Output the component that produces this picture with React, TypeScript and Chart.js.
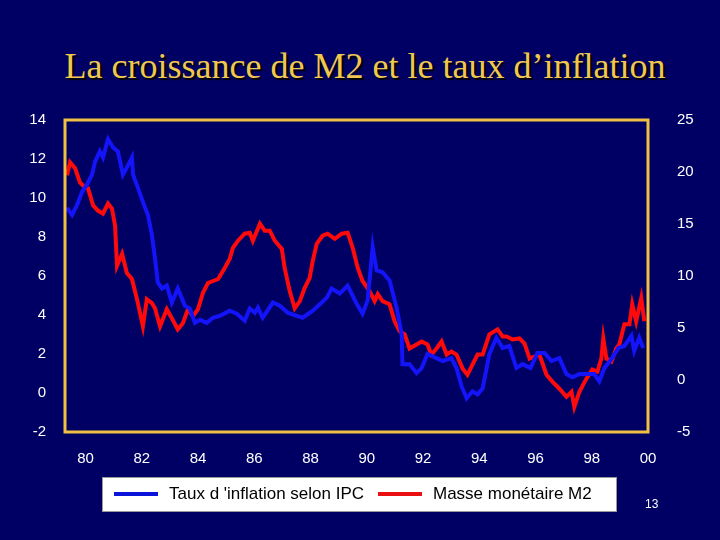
import React, { useEffect, useRef } from "react";
import { Chart, registerables } from "chart.js";

Chart.register(...registerables);

const TITLE = "La croissance de M2 et le taux d’inflation";
const LEGEND_CPI = "Taux d 'inflation selon IPC";
const LEGEND_M2 = "Masse monétaire M2";
const PAGE_NO = "13";

const YEAR_TICKS = [1980, 1982, 1984, 1986, 1988, 1990, 1992, 1994, 1996, 1998, 2000];

// Inflation (CPI), left axis, %
const CPI_YEARS = [
  1979.34, 1979.52, 1979.7, 1979.88, 1980.05, 1980.23, 1980.34, 1980.51, 1980.62, 1980.8,
  1980.98, 1981.15, 1981.33, 1981.47, 1981.65, 1981.69, 1981.86, 1982.04, 1982.22, 1982.36,
  1982.47, 1982.57, 1982.72, 1982.89, 1983.07, 1983.28, 1983.43, 1983.53, 1983.71, 1983.89,
  1984.07, 1984.31, 1984.53, 1984.78, 1985.13, 1985.38, 1985.66, 1985.84, 1986.02, 1986.13,
  1986.3, 1986.66, 1986.91, 1987.19, 1987.51, 1987.72, 1988.08, 1988.4, 1988.58, 1988.75,
  1989.04, 1989.32, 1989.64, 1989.85, 1990.03, 1990.21, 1990.35, 1990.56, 1990.81, 1991.06,
  1991.24, 1991.27, 1991.52, 1991.77, 1991.95, 1992.16, 1992.48, 1992.7, 1993.01, 1993.19,
  1993.37, 1993.55, 1993.76, 1993.94, 1994.12, 1994.36, 1994.61, 1994.83, 1995.07, 1995.32,
  1995.54, 1995.82, 1996.07, 1996.32, 1996.57, 1996.85, 1997.1, 1997.31, 1997.56, 1997.81,
  1998.09, 1998.27, 1998.45, 1998.7, 1998.95, 1999.16, 1999.41, 1999.51, 1999.69, 1999.83,
];
const CPI_VALUES = [
  9.49, 9.13, 9.65, 10.32, 10.68, 11.2, 11.87, 12.39, 12.08, 13.01,
  12.59, 12.39, 11.2, 11.56, 12.08, 11.2, 10.53, 9.8, 9.13, 8.1,
  6.91, 5.67, 5.36, 5.51, 4.64, 5.36, 4.84, 4.48, 4.33, 3.6,
  3.76, 3.6, 3.86, 3.96, 4.22, 4.07, 3.71, 4.33, 4.12, 4.38,
  3.86, 4.64, 4.48, 4.12, 3.96, 3.86, 4.22, 4.64, 4.89, 5.36,
  5.1, 5.51, 4.58, 4.07, 4.74, 7.48, 6.29, 6.19, 5.77, 4.38,
  3.03, 1.48, 1.48, 1.02, 1.28, 2.0, 1.79, 1.64, 1.79, 1.28,
  0.35, -0.27, 0.09, -0.07, 0.24, 2.0, 2.83, 2.31, 2.41, 1.28,
  1.48, 1.28, 2.05, 2.05, 1.64, 1.79, 0.97, 0.81, 0.97, 0.97,
  0.97, 0.6, 1.28, 1.74, 2.31, 2.41, 2.93, 2.16, 2.83, 2.31,
];

// M2 growth, right axis, %
const M2_YEARS = [
  1979.34, 1979.45, 1979.63, 1979.8, 1979.98, 1980.09, 1980.27, 1980.44, 1980.62, 1980.8,
  1980.94, 1981.05, 1981.12, 1981.3, 1981.47, 1981.65, 1981.83, 1982.04, 1982.18, 1982.36,
  1982.47, 1982.65, 1982.89, 1983.07, 1983.28, 1983.46, 1983.64, 1983.82, 1984.0, 1984.17,
  1984.35, 1984.53, 1984.71, 1984.95, 1985.13, 1985.24, 1985.42, 1985.66, 1985.84, 1985.95,
  1986.2, 1986.37, 1986.55, 1986.73, 1986.98, 1987.08, 1987.26, 1987.44, 1987.62, 1987.79,
  1987.97, 1988.08, 1988.22, 1988.43, 1988.61, 1988.86, 1989.11, 1989.32, 1989.5, 1989.68,
  1989.85, 1990.1, 1990.28, 1990.39, 1990.56, 1990.81, 1990.99, 1991.17, 1991.35, 1991.52,
  1991.77, 1991.95, 1992.16, 1992.3, 1992.48, 1992.66, 1992.84, 1993.01, 1993.19, 1993.41,
  1993.58, 1993.76, 1993.94, 1994.12, 1994.36, 1994.65, 1994.83, 1994.97, 1995.18, 1995.43,
  1995.61, 1995.79, 1995.96, 1996.14, 1996.39, 1996.6, 1996.85, 1997.1, 1997.28, 1997.38,
  1997.56, 1997.81, 1998.02, 1998.2, 1998.34, 1998.41, 1998.52, 1998.7, 1998.87, 1998.98,
  1999.16, 1999.34, 1999.44, 1999.58, 1999.76, 1999.87,
];
const M2_VALUES = [
  19.68, 20.94, 20.36, 19.0, 18.52, 18.42, 16.78, 16.29, 16.0, 16.97,
  16.49, 14.84, 10.97, 12.13, 10.29, 9.71, 7.77, 5.16, 7.77, 7.39,
  6.9, 5.16, 6.81, 5.93, 4.87, 5.45, 6.81, 6.13, 6.81, 8.35,
  9.32, 9.52, 9.71, 10.77, 11.65, 12.71, 13.39, 14.07, 14.16, 13.39,
  15.03, 14.36, 14.36, 13.39, 12.61, 10.77, 8.55, 6.9, 7.58, 8.84,
  9.81, 11.45, 13.1, 13.87, 14.07, 13.58, 14.07, 14.16, 12.71, 10.77,
  9.52, 8.55, 7.58, 8.26, 7.58, 7.29, 5.64, 4.68, 4.39, 3.03,
  3.42, 3.71, 3.42, 2.45, 3.03, 3.71, 2.45, 2.74, 2.45, 1.09,
  0.51, 1.48, 2.45, 2.45, 4.39, 4.87, 4.19, 4.19, 3.9, 4.0,
  3.51, 2.06, 2.26, 2.45, 0.51, -0.16, -0.84, -1.62, -1.13, -2.58,
  -1.13, 0.13, 1.0, 0.8, 2.06, 4.0, 2.06, 1.77, 3.03, 3.42,
  5.35, 5.35, 7.29, 5.64, 7.87, 5.64,
];

const BG = "#000064";
const FONT = "'Liberation Sans', Arial, sans-serif";
const BLUE = "#1414FA";
const RED = "#FF0A0A";

const framePlugin = {
  id: "frame",
  afterDatasetsDraw(chart: any) {
    const { ctx, chartArea } = chart;
    ctx.save();
    ctx.strokeStyle = "#F0C040";
    ctx.lineWidth = 3;
    ctx.strokeRect(chartArea.left, chartArea.top, chartArea.right - chartArea.left, chartArea.bottom - chartArea.top);
    ctx.restore();
  },
};

export default function App() {
  const ref = useRef<HTMLCanvasElement | null>(null);

  useEffect(() => {
    document.body.style.margin = "0";
    const canvas = ref.current;
    if (!canvas) return;
    const chart = new Chart(canvas, {
      type: "line",
      data: {
        datasets: [
          {
            label: LEGEND_CPI,
            data: CPI_YEARS.map((x, i) => ({ x, y: CPI_VALUES[i] })),
            borderColor: BLUE,
            borderWidth: 4,
            pointRadius: 0,
            yAxisID: "yL",
          },
          {
            label: LEGEND_M2,
            data: M2_YEARS.map((x, i) => ({ x, y: M2_VALUES[i] })),
            borderColor: RED,
            borderWidth: 4,
            pointRadius: 0,
            yAxisID: "yR",
          },
        ],
      },
      options: {
        animation: false,
        responsive: false,
        devicePixelRatio: 1,
        layout: { padding: { top: 120, left: 0, right: 0, bottom: 0 } },
        plugins: { legend: { display: false }, title: { display: false }, tooltip: { enabled: false } },
        scales: {
          x: {
            type: "linear",
            min: 1979.27,
            max: 2000,
            grid: { display: false },
            border: { display: false },
            afterBuildTicks: (s: any) => {
              s.ticks = YEAR_TICKS.map((v) => ({ value: v }));
            },
            afterFit: (s: any) => {
              s.height = 108;
            },
            ticks: {
              color: "#FFFFFF",
              font: { family: FONT, size: 15 },
              padding: 10,
              autoSkip: false,
              maxRotation: 0,
              callback: (v: any) => String(Number(v) % 100).padStart(2, "0"),
            },
          },
          yL: {
            position: "left",
            min: -2,
            max: 14,
            grid: { display: false },
            border: { display: false },
            afterFit: (s: any) => {
              s.width = 65;
            },
            ticks: { stepSize: 2, color: "#FFFFFF", font: { family: FONT, size: 15 }, padding: 11 },
          },
          yR: {
            position: "right",
            min: -5,
            max: 25,
            grid: { display: false },
            border: { display: false },
            afterFit: (s: any) => {
              s.width = 72;
            },
            ticks: { stepSize: 5, color: "#FFFFFF", font: { family: FONT, size: 15 }, padding: 21 },
          },
        },
      },
      plugins: [framePlugin],
    });
    return () => chart.destroy();
  }, []);

  return (
    <div style={{ position: "relative", width: 720, height: 540, background: BG, overflow: "hidden" }}>
      <div
        style={{
          position: "absolute",
          left: 5,
          top: 48,
          width: 720,
          textAlign: "center",
          fontFamily: "'Liberation Serif', 'Times New Roman', serif",
          fontSize: 36,
          lineHeight: "36px",
          color: "#F0C850",
          textShadow: "2px 2px 1px #000000",
          whiteSpace: "nowrap",
        }}
      >
        {TITLE}
      </div>
      <canvas ref={ref} width={720} height={540} style={{ position: "absolute", left: 0, top: 0, width: 720, height: 540 }} />
      <div
        style={{
          position: "absolute",
          left: 102,
          top: 477,
          width: 515,
          height: 35,
          background: "#FFFFFF",
          border: "1px solid #999",
          boxSizing: "border-box",
          fontFamily: FONT,
          fontSize: 17,
          color: "#000",
        }}
      >
        <div style={{ position: "absolute", left: 11, top: 14, width: 44, height: 4, background: "#0A14D8" }} />
        <div style={{ position: "absolute", left: 66, top: 6, lineHeight: "20px", whiteSpace: "nowrap" }}>{LEGEND_CPI}</div>
        <div style={{ position: "absolute", left: 275, top: 14, width: 44, height: 4, background: "#E81010" }} />
        <div style={{ position: "absolute", left: 330, top: 6, lineHeight: "20px", whiteSpace: "nowrap" }}>{LEGEND_M2}</div>
      </div>
      <div
        style={{
          position: "absolute",
          left: 645,
          top: 497,
          fontFamily: FONT,
          fontSize: 12,
          color: "#FFFFFF",
          lineHeight: "14px",
        }}
      >
        {PAGE_NO}
      </div>
    </div>
  );
}
